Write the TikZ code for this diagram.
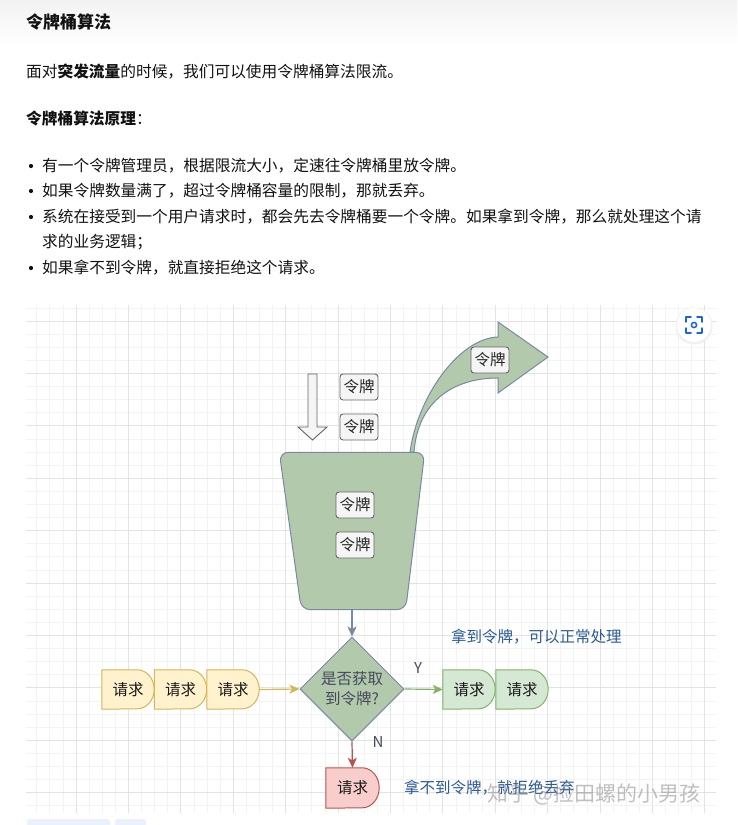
\documentclass[tikz,border=0pt]{standalone}
\usepackage{fontspec}
\setmainfont{Noto Sans CJK SC}
\usetikzlibrary{arrows.meta,calc,shapes.geometric}
\definecolor{sagefill}{HTML}{B2C9AB}
\definecolor{sagestroke}{HTML}{788AA3}
\definecolor{sagetext}{HTML}{46495D}
\definecolor{yfill}{HTML}{FFF2CC}
\definecolor{ystroke}{HTML}{D6B656}
\definecolor{gfill}{HTML}{D5E8D4}
\definecolor{gstroke}{HTML}{82B366}
\definecolor{rfill}{HTML}{F8CECC}
\definecolor{rstroke}{HTML}{B85450}
\definecolor{tokfill}{HTML}{F5F5F5}
\definecolor{tokstroke}{HTML}{666666}
\definecolor{bluetext}{HTML}{2A5A98}
\definecolor{bodytext}{HTML}{121212}
\definecolor{gridminor}{HTML}{F3F3F3}
\definecolor{gridmajor}{HTML}{E3E3E3}
\definecolor{iconblue}{HTML}{1A66D2}
\definecolor{tagblue}{HTML}{EAF1FC}
\pgfdeclarelayer{gridlayer}
\pgfdeclarelayer{shapelayer}
\pgfsetlayers{gridlayer,shapelayer,main}
\newcommand{\delayshape}[3]{%
  \path[fill=#2,draw=#3,line width=1pt] (#1.north west) -- ($(#1.north east)+(-17,0)$)
    arc[start angle=90,end angle=-90,x radius=17pt,y radius=19.5pt] -- (#1.south west) -- cycle;}
\begin{document}
\begin{tikzpicture}[x=1pt,y=-1pt,
  txt/.style={anchor=west, inner sep=0pt, text=bodytext, font=\fontsize{15.7}{18}\selectfont},
  bluelabel/.style={anchor=west, inner sep=0pt, text=bluetext, font=\fontsize{15.5}{18}\selectfont},
  token/.style={draw=tokstroke, fill=tokfill, rounded corners=3pt, minimum width=38pt,
    minimum height=26pt, inner sep=0pt, text=black!85, font=\fontsize{15.5}{18}\selectfont, line width=0.9pt},
  req/.style={minimum width=52pt, minimum height=39pt, inner sep=0pt, text=black!90,
    font=\fontsize{15.5}{18}\selectfont},
  conn/.style={line width=1.2pt, -{Stealth[length=10pt,width=9pt,inset=2.5pt]}},
  yn/.style={inner sep=0pt, text=sagetext, font=\fontsize{15}{18}\selectfont},
  gminor/.style={draw=gridminor, line width=0.7pt},
  gmajor/.style={draw=gridmajor, line width=0.9pt}]
\useasboundingbox (0,0) rectangle (737,825);
\begin{pgfonlayer}{gridlayer}
  \fill[white] (0,0) rectangle (737,825);
  \shade[top color=black!5, bottom color=white] (0,0) rectangle (737,46);
  \begin{scope}
    \clip (26,305) rectangle (716,812);
    \foreach \i in {0,...,53} {\draw[gminor] ({23.6+13.1*\i},300) -- ({23.6+13.1*\i},815);}
    \foreach \i in {2,...,42} {\draw[gminor] (20,{268.6+13.1*\i}) -- (720,{268.6+13.1*\i});}
    \foreach \i in {0,...,13} {\draw[gmajor] ({23.6+52.4*\i},300) -- ({23.6+52.4*\i},815);}
    \foreach \i in {0,...,10} {\draw[gmajor] (20,{268.6+52.4*\i}) -- (720,{268.6+52.4*\i});}
  \end{scope}
  \fill[tagblue, rounded corners=3pt] (27,819) rectangle (110,830);
  \fill[tagblue, rounded corners=3pt] (115,819) rectangle (146,830);
\end{pgfonlayer}

% ---- text part ----
\node[txt, font=\fontsize{17}{20}\selectfont\bfseries] (title) at (26,22) {令牌桶算法};
\node[txt] (p1) at (26,72) {面对\textbf{突发流量}的时候，我们可以使用令牌桶算法限流。};
\node[txt] (p2) at (26,118) {\textbf{令牌桶算法原理}：};
\foreach \yy in {166,191,217,268} {\fill[bodytext] (31,\yy) circle (2.1pt);}
\node[txt] (b1) at (42,166) {有一个令牌管理员，根据限流大小，定速往令牌桶里放令牌。};
\node[txt] (b2) at (42,191) {如果令牌数量满了，超过令牌桶容量的限制，那就丢弃。};
\node[txt] (b3) at (42,217) {系统在接受到一个用户请求时，都会先去令牌桶要一个令牌。如果拿到令牌，那么就处理这个请};
\node[txt] (b3b) at (42,242) {求的业务逻辑；};
\node[txt] (b4) at (42,268) {如果拿不到令牌，就直接拒绝这个请求。};

% ---- icon ----
\fill[black!6] (694,326) circle (18.5pt);
\fill[white] (694,325) circle (17pt);
\begin{scope}[draw=iconblue, line width=1.5pt, line cap=round, line join=round]
  \draw (686,322) -- (686,317) -- (691,317);
  \draw (697,317) -- (702,317) -- (702,322);
  \draw (702,328) -- (702,333) -- (697,333);
  \draw (691,333) -- (686,333) -- (686,328);
  \draw (694,325) circle (2.6pt);
\end{scope}

% ---- diagram ----
\node[inner sep=0pt, minimum width=145pt, minimum height=157pt] (bucket) at (352,531) {};
\node[token] (t1) at (359,387) {令牌};
\node[token] (t2) at (359,427) {令牌};
\node[token] (t3) at (355,505) {令牌};
\node[token] (t4) at (355,545) {令牌};
\node[token] (t5) at (490,360) {令牌};

\node[diamond, aspect=1, minimum width=104pt, minimum height=104pt, inner sep=0pt,
  fill=sagefill, draw=sagestroke, line width=1pt, text=sagetext, align=center,
  font=\fontsize{15.5}{20}\selectfont] (dia) at (352,689) {是否获取\\到令牌?};

\node[req] (r1) at (128,689.5) {请求};
\node[req] (r2) at (180.5,689.5) {请求};
\node[req] (r3) at (233,689.5) {请求};
\node[req] (g1) at (469,689.5) {请求};
\node[req] (g2) at (522,689.5) {请求};
\node[req, minimum height=40pt, minimum width=53pt] (rd) at (352.5,788) {请求};

\begin{pgfonlayer}{shapelayer}
  % incoming token arrow
  \path[fill=tokfill, draw=tokstroke, line width=0.9pt, line join=miter]
    (308,374) -- (317,374) -- (317,427) -- (327,427) -- (312.5,440) -- (298,427) -- (308,427) -- cycle;
  % outgoing curved arrow
  \path[fill=sagefill, draw=sagestroke, line width=1pt, line join=miter]
    (410,452) .. controls (418,395) and (460,338) .. (498,337) -- (498,322) -- (548,357)
    -- (498,393) -- (498,378) .. controls (455,378) and (418,400) .. (414,452) -- cycle;
  % bucket
  \path[fill=sagefill, draw=sagestroke, line width=1pt, rounded corners=9pt]
    (bucket.north west) -- (bucket.north east) -- ($(bucket.south east)+(-19,0)$)
    -- ($(bucket.south west)+(22,0)$) -- cycle;
  \delayshape{r1}{yfill}{ystroke}
  \delayshape{r2}{yfill}{ystroke}
  \delayshape{r3}{yfill}{ystroke}
  \delayshape{g1}{gfill}{gstroke}
  \delayshape{g2}{gfill}{gstroke}
  \path[fill=rfill,draw=rstroke,line width=1pt] (rd.north west) -- ($(rd.north east)+(-17,0)$)
    arc[start angle=90,end angle=-90,x radius=17pt,y radius=20pt] -- (rd.south west) -- cycle;
\end{pgfonlayer}

\draw[conn, sagestroke] (bucket.south) -- (dia.north);
\draw[conn, ystroke] (r3.east) -- (dia.west);
\draw[conn, gstroke] (dia.east) -- (g1.west);
\draw[conn, rstroke] (dia.south) -- (rd.north);
\node[yn] (ylab) at (418,668) {Y};
\node[yn] (nlab) at (378,742) {N};

\node[bluelabel] (oklab) at (451,637) {拿到令牌，可以正常处理};
\node[bluelabel] (nolab) at (404,788) {拿不到令牌，就拒绝丢弃};

% watermark
\node[anchor=west, inner sep=0pt, text=black!45, opacity=0.55,
  font=\fontsize{21}{24}\selectfont] (wm) at (487,794) {知乎 @捡田螺的小男孩};
\end{tikzpicture}
\end{document}
